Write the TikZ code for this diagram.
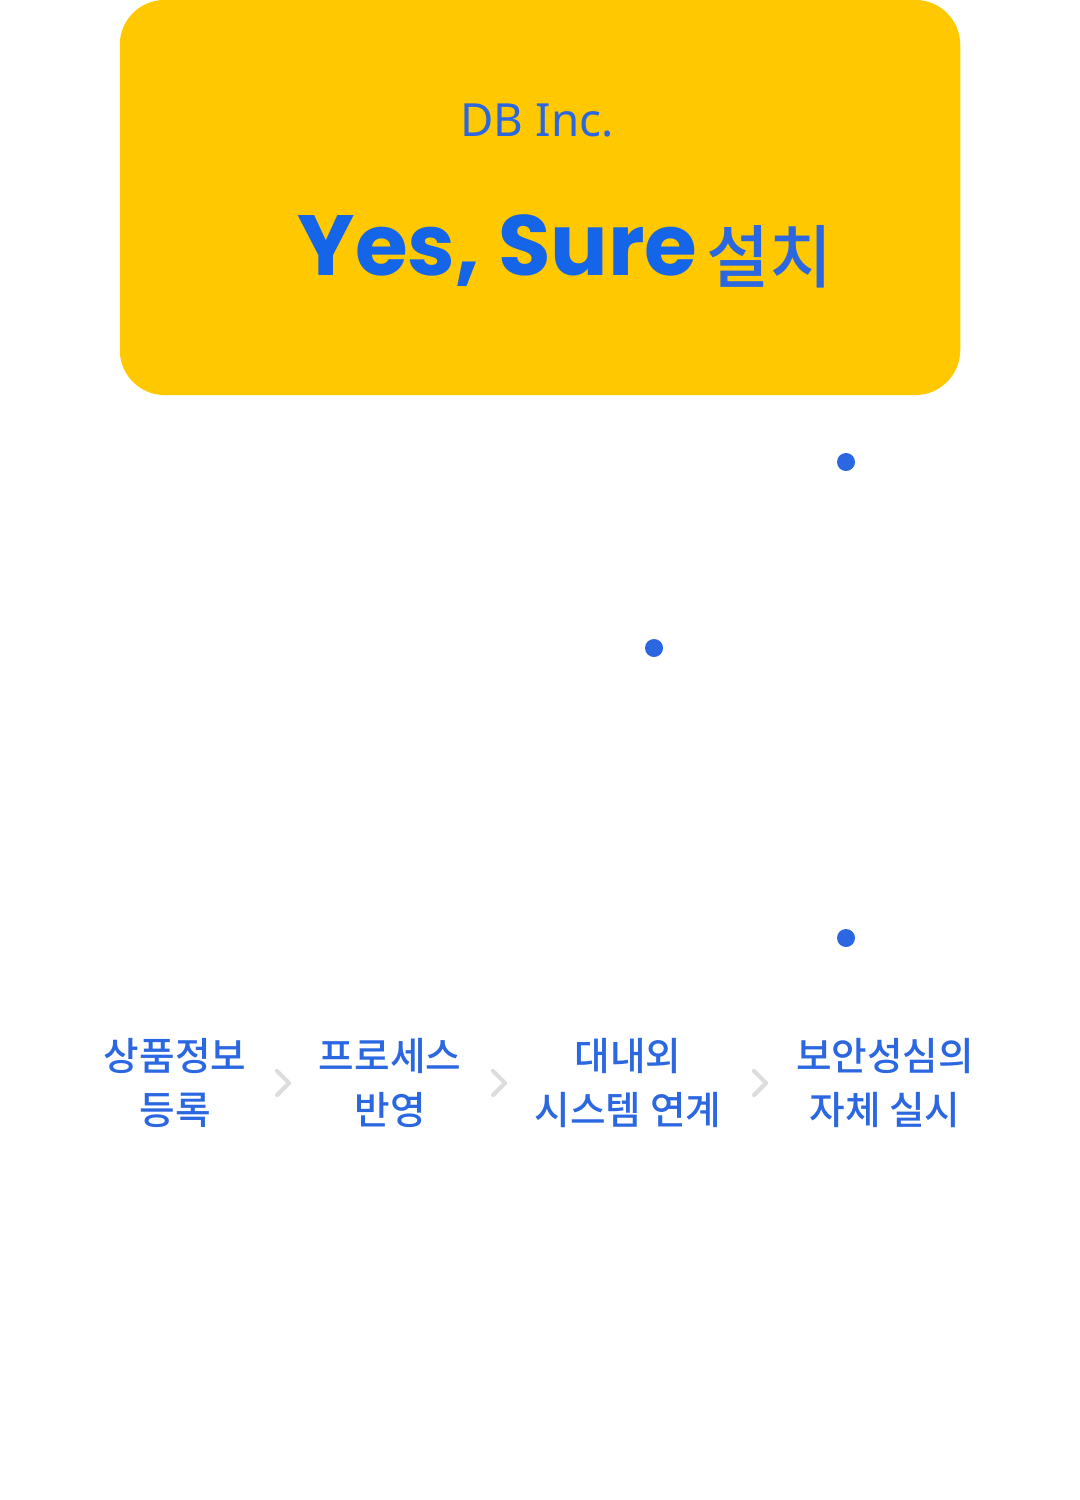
\documentclass[tikz,border=0pt]{standalone}
\usepackage{fontspec}
\setmainfont{Noto Sans}
\newfontfamily\krfont{Noto Sans CJK KR Medium}
\newfontfamily\yesfont{Poppins}
\usepackage{tikz}
\usetikzlibrary{positioning}
\definecolor{dbyellow}{HTML}{FFC800}
\definecolor{dbblue}{HTML}{2B67E0}
\definecolor{yesblue}{HTML}{1565E8}
\definecolor{chevgray}{HTML}{DDDDDD}

\begin{document}
\begin{tikzpicture}[
  x=0.01cm,y=-0.01cm,
  banner/.style={fill=dbyellow,rounded corners=0.45cm,minimum width=8.4cm,minimum height=3.95cm,inner sep=0},
  dot/.style={circle,fill=dbblue,minimum size=0.18cm,inner sep=0},
  steplabel/.style={align=center,text=dbblue,font=\krfont\fontsize{11}{15.4}\selectfont,inner sep=0},
  chev/.style={draw=chevgray,line width=1.2pt,line cap=round,line join=round}
]
\useasboundingbox (0,0) rectangle (1080,1500);
\node[banner] (banner) at (540,197.5) {};
\node[anchor=base,text=dbblue,font=\fontsize{13}{15}\selectfont] (company) at (537,137) {DB Inc.};
\node[anchor=base west,inner sep=0,text=yesblue,font=\yesfont\bfseries\fontsize{24.3}{28}\selectfont] (yes) at (297,275) {Yes, Sure};
\node[right=0.08cm of yes.base east,anchor=base west,yshift=-0.07cm,inner sep=0,text=dbblue,font=\krfont\fontsize{19.5}{22}\selectfont] (install) {설치};

\node[dot] (d1) at (846,462) {};
\node[dot] (d2) at (654,648) {};
\node[dot] (d3) at (846,938) {};

\node[steplabel] (reg) at (175,1083) {상품정보\\등록};
\node[steplabel] (proc) at (390,1083) {프로세스\\반영};
\node[steplabel] (link) at (628,1083) {대내외\\시스템 연계};
\node[steplabel] (sec) at (885,1083) {보안성심의\\자체 실시};

\coordinate (c1) at (283,1083);
\coordinate (c2) at (499,1083);
\coordinate (c3) at (760,1083);
\foreach \c in {c1,c2,c3}
  \draw[chev] ([shift={(-6,-12)}]\c) -- ([shift={(6,0)}]\c) -- ([shift={(-6,12)}]\c);
\end{tikzpicture}
\end{document}
